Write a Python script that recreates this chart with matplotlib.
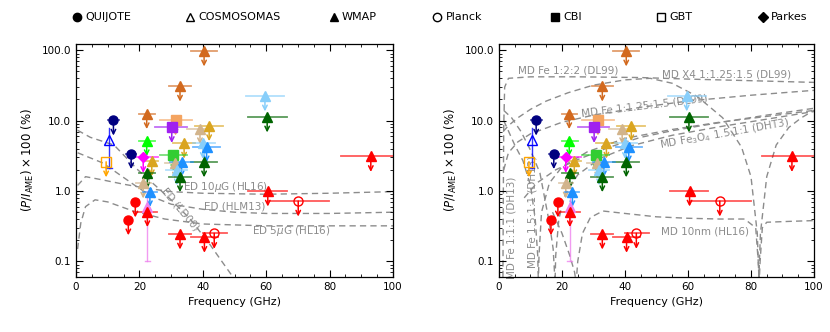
import numpy as np
import matplotlib
matplotlib.use('Agg')
import matplotlib.pyplot as plt
from matplotlib.ticker import MultipleLocator, LogLocator, NullFormatter

plt.rcParams['font.family'] = 'DejaVu Sans'
plt.rcParams['font.size'] = 7.5

#--- DATA: AME polarization upper limits / measurements
freq = [11.8, 17.4, 10.4, 9.5, 22.3, 32.8, 40.4, 31.4, 30.2, 39.1, 42.0, 34.1, 40.0, 41.2,
        40.4, 22.3, 21.2, 23.9, 30.7, 31.2, 33.3, 31.8, 32.8, 22.5, 21.2, 23.3, 22.5, 22.5,
        18.7, 16.5, 32.8, 40.5, 43.6, 60.5, 70.1, 93.0, 59.6, 60.3]
pol = [10.2, 3.4, 5.3, 2.6, 12.6, 31.0, 98.0, 10.2, 8.0, 7.7, 8.5, 4.8, 4.75, 4.25,
       2.6, 5.2, 3.0, 2.7, 3.2, 2.5, 2.6, 2.0, 1.6, 1.8, 1.3, 0.98, 0.60, 0.51,
       0.70, 0.39, 0.245, 0.22, 0.25, 1.0, 0.72, 3.1, 22.5, 11.3]
freq_lo = [10.2, 15.8, 10.4, 9.5, 19.9, 29.4, 36.2, 26.5, 25.0, 35.0, 37.5, 30.7, 36.8, 37.0,
           36.2, 19.9, 16.4, 21.5, 26.5, 28.0, 29.7, 28.5, 29.3, 20.0, 19.0, 21.0, 22.5, 19.6,
           18.7, 16.5, 29.3, 36.2, 40.0, 54.3, 60.6, 83.5, 53.6, 54.3]
freq_hi = [13.5, 19.0, 10.4, 9.5, 24.9, 36.2, 44.6, 36.5, 35.0, 43.3, 46.3, 37.5, 43.8, 45.4,
           44.6, 25.0, 25.9, 26.0, 35.0, 34.5, 36.8, 35.0, 36.3, 25.0, 23.5, 25.5, 22.5, 25.6,
           18.7, 16.5, 36.3, 44.8, 47.5, 66.5, 79.9, 100.0, 65.6, 66.5]
markers = ['o', 'o', '^', 's', '^', '^', '^', 's', 's', '^', '^', '^', '^', '^',
           '^', '^', 'D', '^', 's', '^', '^', '^', '^', '^', '^', '^', '^', '^',
           'o', 'o', '^', '^', 'o', '^', 'o', '^', '^', '^']
colours = ['navy', 'navy', 'blue', 'orange', 'chocolate', 'chocolate', 'chocolate',
           'sandybrown', '#A020F0', 'tan', 'goldenrod', 'goldenrod', 'lightskyblue',
           'dodgerblue', 'darkgreen', 'lime', 'magenta', 'goldenrod', 'limegreen', 'tan',
           'dodgerblue', 'lightskyblue', 'darkgreen', 'darkgreen', 'tan', 'dodgerblue',
           'violet', 'red', 'red', 'red', 'red', 'red', 'red', 'red', 'red', 'red',
           'lightskyblue', 'darkgreen']
filled = [True, True, False, False] + [True] * 28 + [False, True, False, True, True, True]
upper = [True, True, False, True] + [True] * 22 + [False] + [True] * 11
# vertical error bars for the two detections (index -> (low, high))
yerr_bars = {2: (2.1, 7.8), 26: (0.1, 1.0)}

#--- ED models (left panel)
ld00_f = [0.5, 4.5, 12, 19.5, 25, 30, 36, 42, 46, 49.5]
ld00_p = [7.3, 5.8, 4.5, 2.0, 1.2, 0.75, 0.4, 0.18, 0.1, 0.06]
hlm13_f = [0.5, 8.5, 19.3, 24.3, 30, 40, 50, 60, 80, 100]
hlm13_p = [3.5, 2.5, 1.14, 0.82, 0.65, 0.55, 0.5, 0.48, 0.48, 0.5]
ed10_f = [0.5, 3, 8, 15, 22, 30, 40, 60, 80, 100]
ed10_p = [1.2, 1.6, 1.45, 1.25, 1.1, 0.98, 0.93, 0.9, 0.93, 0.98]
ed5_f = [0.5, 1.5, 3, 6, 10, 18, 28, 40, 60, 100]
ed5_p = [0.15, 0.35, 0.6, 0.75, 0.7, 0.52, 0.4, 0.34, 0.32, 0.32]

#--- MD models (right panel)
fe122_f = [1.25, 1.35, 1.5, 1.8, 3, 10, 25, 45, 60, 80, 100]
fe122_p = [0.06, 0.6, 8, 30, 40, 42, 42, 41, 39, 37, 35]
x4_f = [1.3, 3, 6, 10, 15, 22, 30, 40, 48, 55, 63, 71, 77, 80, 82, 82.5, 83, 85, 88, 92, 96, 100]
x4_p = [7, 8.5, 11, 14.5, 19, 25, 32, 38, 40, 34, 22, 11, 4.2, 1.6, 0.25, 0.06, 0.25, 1.6,
        4.5, 8, 11, 14]
fe1125_f = [1.5, 3, 6, 10, 20, 30, 45, 60, 80, 100]
fe1125_p = [2.0, 3.5, 5.0, 6.5, 9.5, 12, 15.5, 19, 23, 27]
fe3o4_f = [8, 12, 18, 25, 35, 45, 55, 65, 75, 85, 100]
fe3o4_p = [0.8, 1.3, 2.0, 2.8, 4.2, 5.8, 7.2, 8.6, 10.2, 12, 15]
dh111_f = [1.5, 2.5, 5, 7.6, 10, 11.5, 12.3, 12.5, 12.7, 13.5, 16, 20, 28, 40, 55, 70, 85, 100]
dh111_p = [10, 8, 4.5, 2.7, 1.2, 0.4, 0.12, 0.05, 0.12, 0.5, 1.3, 2.2, 3.6, 5.6, 7.5, 9.5,
           11.5, 14]
dh1511_f = [1.5, 4, 7, 10, 13, 14.6, 16, 17.2, 17.8, 18.0, 19, 21, 25, 32, 42, 55, 70, 85, 100]
dh1511_p = [14, 11, 7, 3.8, 1.8, 0.75, 0.35, 0.15, 0.05, 0.12, 0.4, 0.9, 1.7, 2.9, 4.4, 6.2,
            8.2, 10.5, 13.5]
md10_f = [17, 20, 22.5, 24.0, 24.5, 25.0, 26.5, 29, 33, 40, 50, 60, 70, 78, 81.5, 82.3, 82.6,
          82.9, 83.6, 85, 92, 100]
md10_p = [0.5, 0.25, 0.12, 0.07, 0.05, 0.1, 0.25, 0.42, 0.52, 0.48, 0.43, 0.41, 0.40, 0.4, 0.3,
          0.1, 0.05, 0.1, 0.3, 0.36, 0.37, 0.38]

#--- legend entries
leg_names = ['QUIJOTE', 'COSMOSOMAS', 'WMAP', 'Planck', 'CBI', 'GBT', 'Parkes']
leg_marks = ['o', '^', '^', 'o', 's', 's', 'D']
leg_fill = [True, False, True, False, True, False, True]

dash_kw = dict(color='#8c8c8c', lw=1.0, dashes=(4.5, 3), zorder=1)
lab_kw = dict(color='#8c8c8c', fontsize=7.5, ha='center', va='center', zorder=2)


def draw_points(ax):
    for i in range(len(freq)):
        c = colours[i]
        if freq_hi[i] > freq_lo[i]:
            ax.plot([freq_lo[i], freq_hi[i]], [pol[i], pol[i]], color=c, alpha=0.65,
                    lw=1.3, zorder=3)
        if i in yerr_bars:
            lo, hi = yerr_bars[i]
            ax.plot([freq[i], freq[i]], [lo, hi], color=c, alpha=0.8, lw=1.0, zorder=3)
            ax.plot([freq[i] - 0.8, freq[i] + 0.8], [lo, lo], color=c, alpha=0.8, lw=1.0, zorder=3)
        if upper[i]:
            ax.annotate('', xy=(freq[i], pol[i] * 10**-0.22), xytext=(freq[i], pol[i]),
                        arrowprops=dict(arrowstyle='->', color=c, lw=1.1, shrinkA=0,
                                        shrinkB=0, mutation_scale=8), zorder=3)
        ms = 5.5 if markers[i] == 'D' else 6.5
        ax.plot(freq[i], pol[i], marker=markers[i], ms=ms, ls='none',
                mfc=c if filled[i] else 'none', mec=c, mew=1.0, zorder=4)


def style_axis(ax):
    ax.set_yscale('log')
    ax.set_xlim(0, 100)
    ax.set_ylim(0.06, 123)
    ax.xaxis.set_major_locator(MultipleLocator(20))
    ax.xaxis.set_minor_locator(MultipleLocator(5))
    ax.set_yticks([0.1, 1, 10, 100])
    ax.set_yticklabels(['0.1', '1.0', '10.0', '100.0'])
    ax.yaxis.set_minor_locator(LogLocator(base=10, subs=np.arange(2, 10)))
    ax.yaxis.set_minor_formatter(NullFormatter())
    ax.tick_params(which='both', direction='in', top=True, right=True)
    ax.tick_params(which='major', length=5, width=0.8)
    ax.tick_params(which='minor', length=2.5, width=0.6)
    ax.set_xlabel('Frequency (GHz)', fontsize=8)
    ax.set_ylabel(r'$(P/I_{\rm AME})\times100$ (%)', fontsize=8.5)
    for s in ax.spines.values():
        s.set_linewidth(0.9)


fig = plt.figure(figsize=(8.3, 3.32), dpi=100)
ax1 = fig.add_axes([0.0916, 0.1657, 0.3819, 0.7018])
ax2 = fig.add_axes([0.6012, 0.1657, 0.3795, 0.7018])

# left: electric dipole models
for f, p in [(ld00_f, ld00_p), (hlm13_f, hlm13_p), (ed10_f, ed10_p), (ed5_f, ed5_p)]:
    ax1.plot(f, p, **dash_kw)
ax1.text(47, 1.15, r'ED 10$\mu$G (HL16)', **lab_kw)
ax1.text(50, 0.6, 'ED (HLM13)', **lab_kw)
ax1.text(68, 0.27, r'ED 5$\mu$G (HL16)', **lab_kw)
ax1.text(33, 0.55, 'ED (LD00)', rotation=-50, **lab_kw)

# right: magnetic dipole models
for f, p in [(fe122_f, fe122_p), (x4_f, x4_p), (fe1125_f, fe1125_p), (fe3o4_f, fe3o4_p),
             (dh111_f, dh111_p), (dh1511_f, dh1511_p), (md10_f, md10_p)]:
    ax2.plot(f, p, **dash_kw)
ax2.text(22, 52, 'MD Fe 1:2:2 (DL99)', **lab_kw)
ax2.text(72.4, 45, 'MD X4 1:1.25:1.5 (DL99)', **lab_kw)
ax2.text(46.3, 16.5, 'MD Fe 1:1.25:1.5 (DL99)', rotation=7, **lab_kw)
ax2.text(71.7, 6.4, r'MD Fe$_3$O$_4$ 1.5:1:1 (DHT3)', rotation=10, **lab_kw)
ax2.text(65.4, 0.27, 'MD 10nm (HL16)', **lab_kw)
ax2.text(4.1, 0.3, 'MD Fe 1:1:1 (DH13)', rotation=90, **lab_kw)
ax2.text(10.5, 0.5, 'MD Fe 1.5:1:1 (DH13)', rotation=90, **lab_kw)

for ax in (ax1, ax2):
    draw_points(ax)
    style_axis(ax)

# legend strip across the top (positions in figure fraction)
legax = fig.add_axes([0, 0.9, 1, 0.1])
legax.set_xlim(0, 1)
legax.set_ylim(0, 1)
legax.axis('off')
leg_pos = [0.093, 0.229, 0.402, 0.527, 0.669, 0.796, 0.919]
for xp, name, m, fl in zip(leg_pos, leg_names, leg_marks, leg_fill):
    legax.plot(xp, 0.49, marker=m, ms=6 if m != 'D' else 5, ls='none',
               mfc='k' if fl else 'none', mec='k', mew=1.0)
    legax.text(xp + 0.01, 0.49, name, fontsize=8, ha='left', va='center')

fig.savefig('out.png', dpi=100)
